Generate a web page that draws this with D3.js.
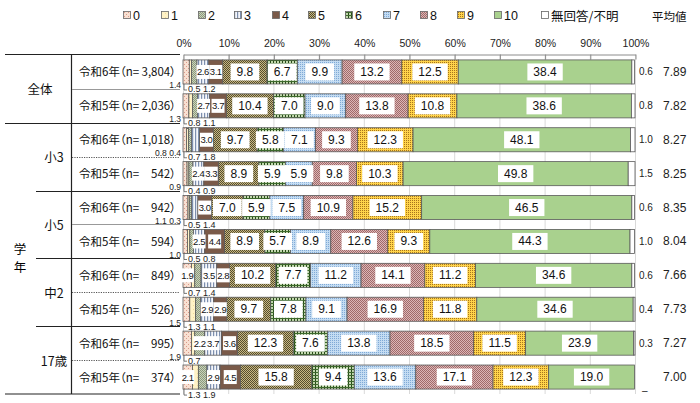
<!DOCTYPE html>
<html><head><meta charset="utf-8">
<script src="https://cdn.jsdelivr.net/npm/d3@7"></script>
<style>body{margin:0;background:#fff} svg{font-family:"Noto Sans CJK JP","Noto Sans",sans-serif} .palt{font-feature-settings:"palt" 1}</style>
</head><body>
<svg id="c" width="700" height="403"></svg>
<script>
const categories = ["0","1","2","3","4","5","6","7","8","9","10","無回答/不明"];
const groups = ["全体","全体","小3","小3","小5","小5","中2","中2","17歳","17歳"];
const years = ["令和6年","令和5年","令和6年","令和5年","令和6年","令和5年","令和6年","令和5年","令和6年","令和5年"];
const sampleN = ["3,804","2,036","1,018","542","942","594","849","526","995","374"];
const values = [
  [1.4,0.5,1.2,2.6,3.1,9.8,6.7,9.9,13.2,12.5,38.4,0.6],
  [1.3,0.8,1.1,2.7,3.7,10.4,7.0,9.0,13.8,10.8,38.6,0.8],
  [0.8,0.4,0.7,1.8,3.0,9.7,5.8,7.1,9.3,12.3,48.1,1.0],
  [0.9,0.4,0.9,2.4,3.3,8.9,5.9,5.9,9.8,10.3,49.8,1.5],
  [1.1,0.3,0.5,1.4,3.0,7.0,5.9,7.5,10.9,15.2,46.5,0.6],
  [1.0,0.5,0.8,2.5,4.4,8.9,5.7,8.9,12.6,9.3,44.3,1.0],
  [1.9,0.7,1.4,3.5,2.8,10.2,7.7,11.2,14.1,11.2,34.6,0.6],
  [1.5,1.3,1.1,2.9,2.9,9.7,7.8,9.1,16.9,11.8,34.6,0.4],
  [1.9,0.7,2.2,3.7,3.6,12.3,7.6,13.8,18.5,11.5,23.9,0.3],
  [2.1,1.3,1.9,2.9,4.5,15.8,9.4,13.6,17.1,12.3,19.0,0]
];
const means = ["7.89","7.82","8.27","8.25","8.35","8.04","7.66","7.73","7.27","7.00"];
const tickValues = [0,10,20,30,40,50,60,70,80,90,100];
const tickLabels = ["0%","10%","20%","30%","40%","50%","60%","70%","80%","90%","100%"];
// label placement for the first small categories: L = left of bar, B = below bar, I = inside
const smallPlacement = ["LBB","LBB","LLBB","LBB","LLBB","LBB","IBB","LBB","LB","IBB"];

const NUMFONT = "'Liberation Sans',Arial,sans-serif";
const svg = d3.select("#c");
const defs = svg.append("defs");
function pat(id, size, bg, draw){
  const p = defs.append("pattern").attr("id",id).attr("patternUnits","userSpaceOnUse").attr("width",size).attr("height",size);
  p.append("rect").attr("width",size).attr("height",size).attr("fill",bg);
  draw && draw(p);
}
function px(p, pts, c){ pts.forEach(([x,y])=>p.append("rect").attr("x",x).attr("y",y).attr("width",1).attr("height",1).attr("fill",c)); }
pat("p0",4,"#f8e0d2",p=>px(p,[[0,0],[2,2]],"#d99a8a"));
pat("p1",4,"#fff2c6",p=>px(p,[[1,1]],"#f0dc9a"));
pat("p2",2,"#c9d2bb",p=>px(p,[[0,0],[1,1]],"#8d9a7c"));
pat("p3",3,"#f4f6fa",p=>p.append("rect").attr("x",0).attr("y",0).attr("width",1.2).attr("height",3).attr("fill","#7d8fae"));
pat("p4",2,"#7a5a49");
pat("p5",2,"#c8b882",p=>px(p,[[0,0],[1,1]],"#554d2f"));
pat("p6",3,"#c2d8ae",p=>{p.append("rect").attr("width",1).attr("height",3).attr("fill","#284a1a");p.append("rect").attr("width",3).attr("height",1).attr("fill","#3d6a2c");});
pat("p7",2,"#c4dcf2",p=>px(p,[[0,0]],"#7fa9d6"));
pat("p8",2,"#dcb6b6",p=>px(p,[[0,0],[1,1]],"#a06a6a"));
pat("p9",2,"#ffd44a",p=>px(p,[[0,0]],"#a8741c"));
pat("p10",2,"#a9d18e");
pat("p11",2,"#ffffff");
const fills = categories.map((c,i)=>"url(#p"+i+")");

const x = d3.scaleLinear().domain([0,100]).range([183,635]);
const rowIdx = d3.range(values.length);
const y = d3.scaleBand().domain(rowIdx).range([55,394]).paddingInner(0.29).paddingOuter(0.145);

svg.append("g").selectAll("line").data(tickValues).join("line")
  .attr("x1",d=>x(d)+0.5).attr("x2",d=>x(d)+0.5).attr("y1",55).attr("y2",394)
  .attr("stroke","#d9d9d9").attr("stroke-width",1);

const axis = d3.axisTop(x).tickValues(tickValues).tickFormat((d,i)=>tickLabels[i]).tickSizeInner(-5).tickSizeOuter(0).tickPadding(10);
const ag = svg.append("g").attr("transform","translate(0.5,54.5)").call(axis);
ag.select(".domain").attr("stroke","#8c8c8c");
ag.selectAll(".tick line").attr("stroke","#8c8c8c");
ag.selectAll(".tick text").attr("font-size",10.5).attr("fill","#222").attr("font-family",NUMFONT).attr("dy","0.2em");

rowIdx.forEach(r=>{
  const vals = values[r];
  let cum = 0;
  const segs = vals.map((v,j)=>{const s={j,v,x0:cum,x1:cum+v}; cum+=v; return s;});
  const g = svg.append("g");
  const top = y(r), bh = y.bandwidth(), bot = top+bh;
  g.selectAll("rect").data(segs.filter(s=>s.v>0)).join("rect")
    .attr("x",s=>x(s.x0)).attr("width",s=>x(s.x1)-x(s.x0))
    .attr("y",top).attr("height",bh)
    .attr("fill",s=>fills[s.j]).attr("stroke","#5a5a5a").attr("stroke-width",0.8);
  const place = smallPlacement[r];
  segs.forEach(s=>{
    if(s.j>=11) return;
    const pl = s.j < place.length ? place[s.j] : "I";
    if(pl!=="I") return;
    const cx = (x(s.x0)+x(s.x1))/2, cy = top+bh/2;
    const small = s.v < 5;
    const t = g.append("text").attr("x",cx).attr("y",cy).attr("text-anchor","middle").attr("dominant-baseline","central")
      .attr("font-size",small?9.5:12).attr("letter-spacing",small?-0.4:0).attr("fill","#111")
      .attr("font-family",NUMFONT).text(s.v.toFixed(1));
    const w = t.node().getComputedTextLength();
    const bw = small ? w+1 : Math.max(w+12, 28);
    const bhh = small ? 14 : 17;
    g.insert("rect","text").attr("x",cx-bw/2).attr("y",cy-bhh/2).attr("width",bw).attr("height",bhh).attr("fill","#fff");
  });
  const L = segs.filter(s=>s.j<place.length && place[s.j]==="L").map(s=>s.v.toFixed(1));
  if(L.length){
    g.append("text").attr("x",181).attr("y",bot+1.5).attr("text-anchor","end").attr("dominant-baseline","central")
      .attr("font-size",8.5).attr("font-family",NUMFONT).attr("fill","#222").text(L.join(" "));
  }
  const B = segs.filter(s=>s.j<place.length && place[s.j]==="B").map(s=>s.v.toFixed(1));
  if(B.length){
    g.append("path").attr("d",`M${x(0)+1},${bot} V${bot+6} H${x(0)+4}`).attr("fill","none").attr("stroke","#555").attr("stroke-width",0.8);
    g.append("text").attr("x",x(0)+5).attr("y",bot+5.5).attr("text-anchor","start").attr("dominant-baseline","central")
      .attr("font-size",9).attr("font-family",NUMFONT).attr("fill","#222").text(B.join(" "));
  }
  const na = vals[11];
  if(na>0){
    g.append("text").attr("x",639).attr("y",top+bh/2).attr("dominant-baseline","central").attr("font-size",10)
      .attr("font-family",NUMFONT).attr("fill","#222").text(na.toFixed(1));
  } else {
    g.append("text").attr("x",642).attr("y",bot+1).attr("dominant-baseline","central").attr("font-size",10)
      .attr("font-family",NUMFONT).attr("fill","#222").text("–");
  }
  g.append("text").attr("x",663).attr("y",top+bh/2).attr("dominant-baseline","central").attr("font-size",12)
    .attr("font-family",NUMFONT).attr("fill","#222").text(means[r]);
});

const tg = svg.append("g");
const rowMid = r => y(r)+y.bandwidth()/2;
const sep = (a,b)=> (y(a)+y.bandwidth()+y(b))/2;
const line = (x1,y1,x2,y2,c,w,dash)=>tg.append("line").attr("x1",x1).attr("y1",y1).attr("x2",x2).attr("y2",y2)
  .attr("stroke",c).attr("stroke-width",w).attr("stroke-dasharray",dash||null);
line(5,54.5,180,54.5,"#222",1.2);
line(5,394,180,394,"#222",1.2);
line(71.5,54.5,71.5,394,"#222",1.2);
const grpNames = [...new Set(groups)];
grpNames.forEach((gname,gi)=>{
  const idx = rowIdx.filter(r=>groups[r]===gname);
  const a = idx[0], b = idx[idx.length-1];
  if(gi>0){
    const yy = Math.round(sep(a-1,a))+0.5;
    line(gi===1?5:36,yy,180,yy,"#222",1.1);
  }
  const my = Math.round(sep(a,b))+0.5;
  const dotted = ["小3","中2","17歳"].includes(gname);
  line(72,my,180,my,dotted?"#555":"#999",1,dotted?"1.2,1.2":null);
  tg.append("text").attr("x",gi===0?40:54).attr("y",(rowMid(a)+rowMid(b))/2).attr("text-anchor","middle")
    .attr("dominant-baseline","central").attr("font-size",12.5).attr("fill","#111").text(gname);
});
tg.append("text").attr("x",20).attr("y",248).attr("text-anchor","middle").attr("dominant-baseline","central").attr("font-size",12.5).text("学");
tg.append("text").attr("x",20).attr("y",266).attr("text-anchor","middle").attr("dominant-baseline","central").attr("font-size",12.5).text("年");

// row labels: prefix left-aligned, count right-aligned, fitted into the column
const labX0 = 79, labX1 = 176;
let fs = 12.5;
function measure(str, f){ const t = tg.append("text").attr("class","palt").attr("font-size",f).text(str); const w = t.node().getComputedTextLength(); t.remove(); return w; }
while(fs > 8){
  const pw = d3.max(rowIdx, r=>measure(years[r]+"（n=", fs));
  const sw = d3.max(rowIdx, r=>measure(sampleN[r]+"）", fs));
  if(pw + sw + 1 <= labX1 - labX0) break;
  fs -= 0.25;
}
rowIdx.forEach(r=>{
  tg.append("text").attr("class","palt").attr("x",labX0).attr("y",rowMid(r)-0.5).attr("dominant-baseline","central").attr("font-size",fs).attr("fill","#111")
    .text(years[r]+"（n=");
  tg.append("text").attr("class","palt").attr("x",labX1).attr("y",rowMid(r)-0.5).attr("dominant-baseline","central").attr("text-anchor","end").attr("font-size",fs).attr("fill","#111")
    .text(sampleN[r]+"）");
});

const lx = [123,161,198,234,272,308,345,383,420,457,494,541];
const lg = svg.append("g");
categories.forEach((c,i)=>{
  lg.append("rect").attr("x",lx[i]+0.5).attr("y",11.5).attr("width",7).attr("height",7).attr("fill",fills[i]).attr("stroke","#666").attr("stroke-width",0.8);
  lg.append("text").attr("x",lx[i]+10).attr("y",15.5).attr("dominant-baseline","central").attr("font-size",12.5).attr("fill","#111")
    .attr("font-family",i<11?NUMFONT:null).text(c);
});
svg.append("text").attr("x",652).attr("y",15.5).attr("dominant-baseline","central").attr("font-size",11.5).attr("fill","#111").text("平均値");
</script>
</body></html>
